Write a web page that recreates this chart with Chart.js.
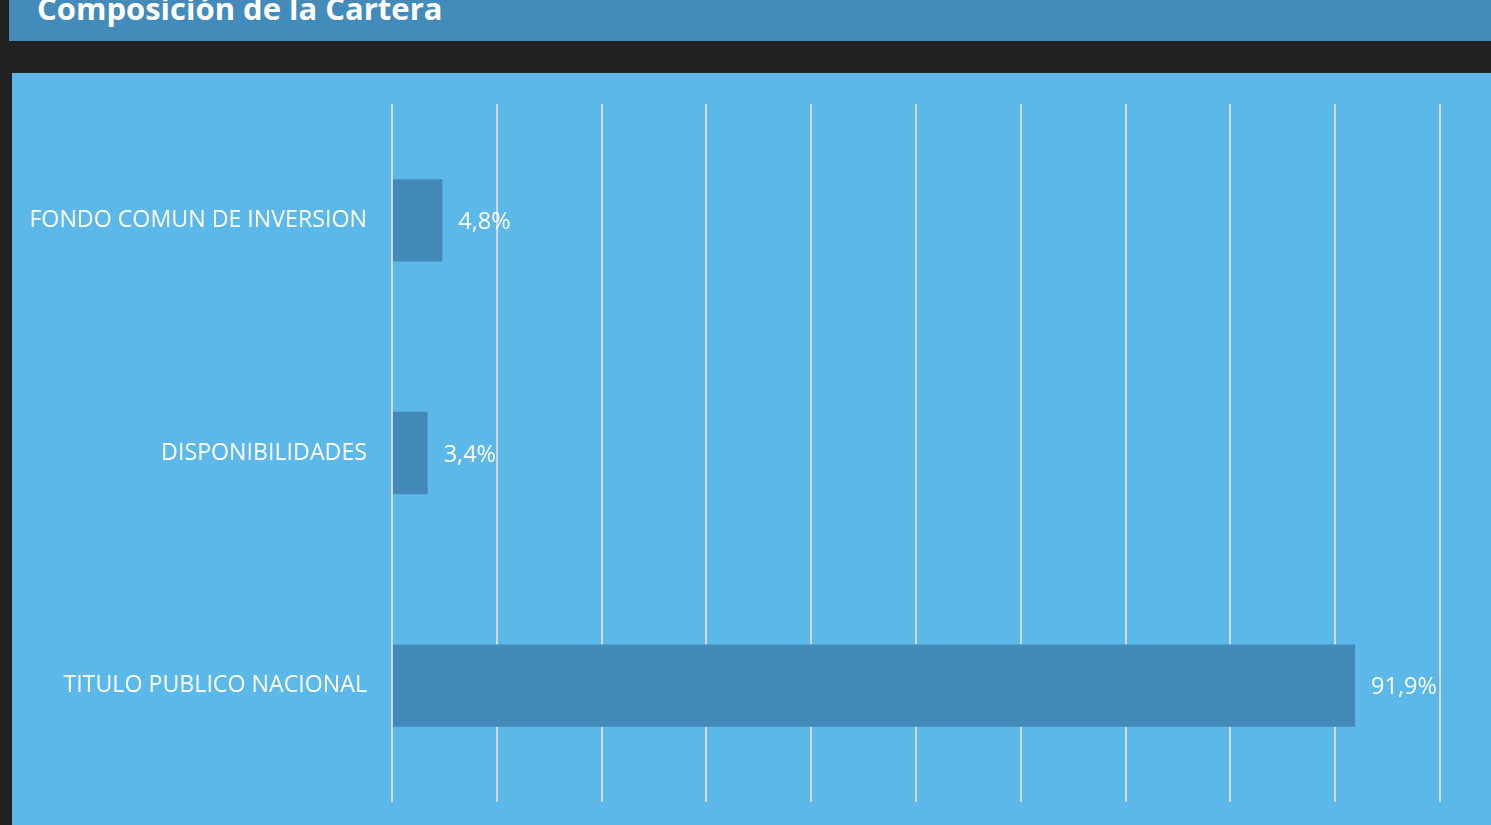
<!DOCTYPE html>
<html>
<head>
<meta charset="utf-8">
<script src="https://cdn.jsdelivr.net/npm/chart.js@4/dist/chart.umd.min.js"></script>
<style>
  html, body { margin: 0; padding: 0; background: #222222; overflow: hidden; }
  #header {
    position: absolute; left: 9px; top: 0; width: 1482px; height: 41px;
    background: #438bba; overflow: hidden;
  }
  #header span {
    position: absolute; left: 28px; top: -12px;
    font-family: "Open Sans", sans-serif; font-weight: bold; font-size: 31px;
    color: #ffffff; line-height: 40px; white-space: nowrap;
  }
  #panel {
    position: absolute; left: 12px; top: 73px; width: 1479px; height: 752px;
    background: #5bb8e8;
  }
</style>
</head>
<body>
<div id="header"><span>Composición de la Cartera</span></div>
<div id="panel"><canvas id="myChart"></canvas></div>
<script>
// categories and values (%)
var categories = ['FONDO COMUN DE INVERSION', 'DISPONIBILIDADES', 'TITULO PUBLICO NACIONAL'];
var values = [4.8, 3.4, 91.9];
var valueLabels = ['4,8%', '3,4%', '91,9%'];

// writes the percentage next to each bar
var barLabels = {
    id: 'barLabels',
    afterDatasetsDraw: function(chart) {
        var ctx = chart.ctx;
        var meta = chart.getDatasetMeta(0);
        ctx.save();
        ctx.fillStyle = '#ffffff';
        ctx.font = '23.5px "Open Sans", sans-serif';
        ctx.textAlign = 'left';
        ctx.textBaseline = 'middle';
        meta.data.forEach(function(bar, i) {
            ctx.fillText(valueLabels[i], bar.x + 16, bar.y + 2);
        });
        ctx.restore();
    }
};

var ctx = document.getElementById('myChart').getContext('2d');
var chart = new Chart(ctx, {
    type: 'bar',
    data: {
        labels: categories,
        datasets: [{
            data: values,
            backgroundColor: '#4389ba',
            borderWidth: 0,
            categoryPercentage: 0.354,
            barPercentage: 1
        }]
    },
    options: {
        indexAxis: 'y',
        responsive: true,
        maintainAspectRatio: false,
        animation: false,
        layout: { padding: { top: 31, bottom: 23, right: 51, left: 0 } },
        plugins: { legend: { display: false }, tooltip: { enabled: false } },
        scales: {
            x: {
                min: 0, max: 100,
                ticks: { display: false, stepSize: 10 },
                border: { display: false },
                grid: { color: '#d3d6d8', lineWidth: 2, drawTicks: false }
            },
            y: {
                ticks: {
                    color: '#ffffff',
                    font: { family: 'Open Sans', size: 23.2 },
                    padding: 25
                },
                border: { display: false },
                grid: { display: false, drawTicks: false },
                afterFit: function(scale) {
                    scale.width = 380;
                    scale.paddingTop = 0;
                    scale.paddingBottom = 0;
                }
            }
        }
    },
    plugins: [barLabels]
});
</script>
</body>
</html>
